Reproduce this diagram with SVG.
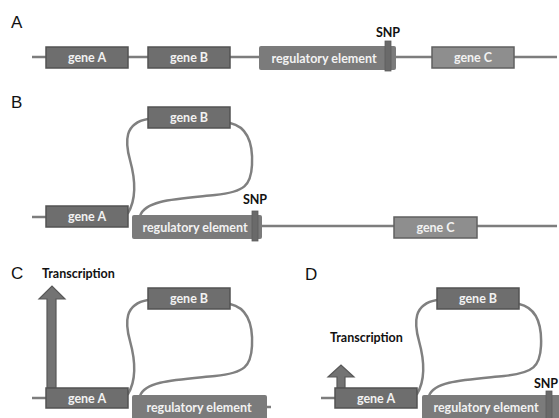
<svg xmlns="http://www.w3.org/2000/svg" width="559" height="418" viewBox="0 0 559 418">
  <style>
    .bg { fill: #ffffff; }
    .dna { fill: none; stroke: #7d7d7d; stroke-width: 2.5; }
    .loop { fill: none; stroke: #808080; stroke-width: 2.5; stroke-linecap: round; }
    .gene { fill: #6e6e6e; stroke: #535353; stroke-width: 1.5; }
    .geneC { fill: #8e8e8e; stroke: #606060; stroke-width: 1.5; }
    .reg { fill: #7b7b7b; }
    .snp { fill: #6a6a6a; stroke: #5c5c5c; stroke-width: 0.8; }
    .arrow { fill: #737373; stroke: #585858; stroke-width: 1.2; stroke-linejoin: miter; }
    .lbl { font-family: Lato, "Open Sans", "Liberation Sans", sans-serif; font-size: 12.5px; font-weight: bold; fill: #f2f2f2; text-anchor: middle; }
    .tag { font-family: Lato, "Open Sans", "Liberation Sans", sans-serif; font-size: 12.5px; font-weight: bold; fill: #111111; }
    .panel { font-family: "Liberation Sans", Arial, sans-serif; font-size: 17px; fill: #111111; }
  </style>
  <rect class="bg" x="0" y="0" width="559" height="418"/>

  <!-- panel letters -->
  <text class="panel" x="11" y="28">A</text>
  <text class="panel" x="11" y="108">B</text>
  <text class="panel" x="11" y="279">C</text>
  <text class="panel" x="305" y="280">D</text>

  <!-- DNA strands and chromatin loops -->
  <g id="connectors">
    <path class="dna" d="M32,57 H557"/>
    <path class="dna" d="M32,217 H46"/>
    <path class="dna" d="M262,226 H557"/>
    <path class="dna" d="M32,398 H46"/>
    <path class="dna" d="M267,407 H271"/>
    <path class="dna" d="M321,398 H335"/>
    <!-- B loops -->
    <path class="loop" d="M128,213 C137,198 135,178 130,160 C125,142 124,123 148,119"/>
    <path class="loop" d="M230,123 C248,127 253,145 252,165 C251,185 245,192 215,195 C175,199 145,200 140,216"/>
    <!-- C loops -->
    <path class="loop" d="M128,394 C137,379 135,359 130,341 C125,323 124,304 148,300"/>
    <path class="loop" d="M230,304 C248,308 253,326 252,346 C251,366 245,373 215,376 C175,380 145,381 140,396"/>
    <!-- D loops -->
    <path class="loop" d="M417,394 C426,379 424,359 419,341 C414,323 413,304 437,300"/>
    <path class="loop" d="M519,304 C537,308 542,326 541,346 C540,366 534,373 504,376 C464,380 434,381 429,396"/>
  </g>

  <!-- Panel A: linear arrangement -->
  <g id="a-geneA"><rect class="gene" x="46" y="47" width="82" height="21"/><text class="lbl" x="87" y="62">gene A</text></g>
  <g id="a-geneB"><rect class="gene" x="148" y="47" width="82" height="21"/><text class="lbl" x="189" y="62">gene B</text></g>
  <g id="a-reg"><rect class="reg" x="259" y="46" width="137" height="24" rx="2"/><text class="lbl" x="324" y="62.5">regulatory element</text></g>
  <g id="a-snp"><rect class="snp" x="385" y="41" width="6" height="30"/><text class="tag" x="388" y="37" text-anchor="middle">SNP</text></g>
  <g id="a-geneC"><rect class="geneC" x="432" y="47" width="82" height="21"/><text class="lbl" x="473" y="62">gene C</text></g>

  <!-- Panel B: looped -->
  <g id="b-geneA"><rect class="gene" x="46" y="206" width="82" height="21"/><text class="lbl" x="87" y="221">gene A</text></g>
  <g id="b-geneB"><rect class="gene" x="148" y="107" width="82" height="21"/><text class="lbl" x="189" y="122">gene B</text></g>
  <g id="b-reg"><rect class="reg" x="132" y="215" width="130" height="24" rx="2"/><text class="lbl" x="195" y="231.5">regulatory element</text></g>
  <g id="b-snp"><rect class="snp" x="252" y="211" width="6" height="30"/><text class="tag" x="255" y="204" text-anchor="middle">SNP</text></g>
  <g id="b-geneC"><rect class="geneC" x="394" y="217" width="83" height="21"/><text class="lbl" x="435.5" y="232">gene C</text></g>

  <!-- Panel C: strong transcription -->
  <g id="c-arrow">
    <path class="arrow" d="M47,388 V299 H39 L52,286 L65,299 H56 V388 Z"/>
    <text class="tag" x="42" y="278">Transcription</text>
  </g>
  <g id="c-geneA"><rect class="gene" x="46" y="388" width="82" height="20"/><text class="lbl" x="87" y="402.5">gene A</text></g>
  <g id="c-geneB"><rect class="gene" x="148" y="288" width="82" height="21"/><text class="lbl" x="189" y="303">gene B</text></g>
  <g id="c-reg"><rect class="reg" x="132" y="395" width="135" height="26" rx="2"/><text class="lbl" x="199" y="412">regulatory element</text></g>

  <!-- Panel D: weak transcription -->
  <g id="d-arrow">
    <path class="arrow" d="M337,388 V377 H328 L341,365 L354,377 H345 V388 Z"/>
    <text class="tag" x="330" y="342">Transcription</text>
  </g>
  <g id="d-geneA"><rect class="gene" x="335" y="388" width="82" height="20"/><text class="lbl" x="376" y="402.5">gene A</text></g>
  <g id="d-geneB"><rect class="gene" x="437" y="288" width="82" height="21"/><text class="lbl" x="478" y="303">gene B</text></g>
  <g id="d-reg"><rect class="reg" x="422" y="395" width="140" height="26" rx="2"/><text class="lbl" x="486" y="412">regulatory element</text></g>
  <g id="d-snp"><rect class="snp" x="546" y="391" width="6" height="30"/><text class="tag" x="546" y="388" text-anchor="middle">SNP</text></g>
</svg>
